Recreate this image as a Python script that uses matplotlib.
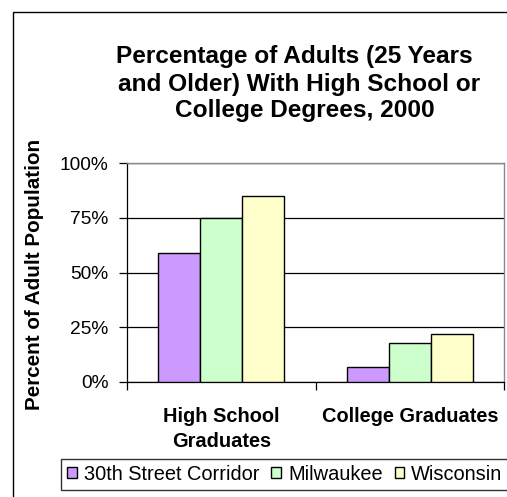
import matplotlib
matplotlib.use("Agg")
import matplotlib.pyplot as plt
import numpy as np
from matplotlib.patches import Rectangle
from matplotlib.ticker import FuncFormatter

plt.rcParams['font.family'] = ['Liberation Sans', 'DejaVu Sans']

categories = ["High School\nGraduates", "College Graduates"]
series = ["30th Street Corridor", "Milwaukee", "Wisconsin"]
values = {
    "30th Street Corridor": [59, 7],
    "Milwaukee": [75, 18],
    "Wisconsin": [85, 22],
}
colors = ["#cc99ff", "#ccffcc", "#ffffcc"]
yticks = [0, 25, 50, 75, 100]
title_lines = ["Percentage of Adults (25 Years",
               "and Older) With High School or",
               "College Degrees, 2000"]

W, H = 507, 497
fig = plt.figure(figsize=(W / 100, H / 100), dpi=100)

# outer chart border (runs off the right and bottom edges)
fig.patches.append(Rectangle((12.5 / W, -0.1), 1.2, 1 - 11.5 / H + 0.1,
                             transform=fig.transFigure, fill=False,
                             edgecolor="black", linewidth=1.0, clip_on=False))

ax = fig.add_axes([127 / W, 1 - 382 / H, (504 - 127) / W, (382 - 163) / H])

x = np.arange(len(categories))
bw = 2 / 3 / 3
for i, s in enumerate(series):
    ax.bar(x - bw + i * bw, values[s], width=bw, color=colors[i],
           edgecolor="black", linewidth=1.0, label=s, zorder=3)

ax.set_xlim(-0.5, 1.5)
ax.set_ylim(0, 100)
ax.set_yticks(yticks)
ax.yaxis.set_major_formatter(FuncFormatter(lambda v, p: f"{v:.0f}%"))
ax.grid(axis="y", color="black", linewidth=0.9, zorder=0)
ax.set_xticks([-0.5, 0.5, 1.5])
ax.set_xticklabels([])
ax.set_xticks(x, minor=True)
ax.set_xticklabels(categories, minor=True, fontsize=14.4, fontweight="bold",
                   linespacing=1.42)
ax.tick_params(axis="x", which="minor", length=0, pad=18)
ax.tick_params(axis="x", which="major", length=6, direction="out", width=0.9)
ax.tick_params(axis="y", length=6, direction="out", width=0.9, labelsize=13.8, pad=7.5)

for side in ["top", "right"]:
    ax.spines[side].set_color("#888888")
    ax.spines[side].set_linewidth(1.0)
ax.spines["left"].set_linewidth(0.9)
ax.spines["bottom"].set_linewidth(0.9)

ax.set_ylabel("Percent of Adult Population", fontsize=14.9, fontweight="bold",
              va="center")
ax.yaxis.set_label_coords((34.5 - 127) / 377, 0.49)

# title, one line at a time (each line centred on its own spot)
for line, xc, yb in zip(title_lines, [294.5, 299, 305], [63.5, 90.5, 117.5]):
    fig.text(xc / W, 1 - yb / H, line, ha="center", va="baseline",
             fontsize=17.6, fontweight="bold")

leg = fig.legend(loc="upper left", bbox_to_anchor=(61.3 / W, 1 - 459 / H),
                 ncol=3, fontsize=14.4, frameon=True, fancybox=False,
                 handlelength=0.47, handleheight=0.47, handletextpad=0.36,
                 columnspacing=0.6, borderpad=0.3, borderaxespad=0)
leg.get_frame().set_edgecolor("black")
leg.get_frame().set_linewidth(1.0)

fig.savefig("out.png", dpi=100)
